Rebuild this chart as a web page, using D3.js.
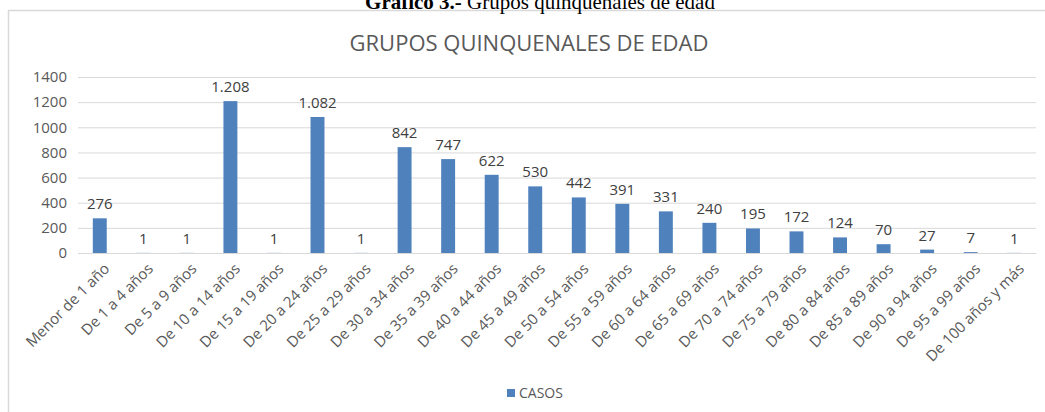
<!DOCTYPE html>
<html>
<head>
<meta charset="utf-8">
<script src="https://cdn.jsdelivr.net/npm/d3@7"></script>
<style>
  body { margin: 0; background: #fff; }
  svg { display: block; }
</style>
</head>
<body>
<div id="container"></div>
<script>
// grupos de edad y casos
var grupos = ["Menor de 1 año", "De 1 a 4 años", "De 5 a 9 años", "De 10 a 14 años", "De 15 a 19 años",
  "De 20 a 24 años", "De 25 a 29 años", "De 30 a 34 años", "De 35 a 39 años", "De 40 a 44 años",
  "De 45 a 49 años", "De 50 a 54 años", "De 55 a 59 años", "De 60 a 64 años", "De 65 a 69 años",
  "De 70 a 74 años", "De 75 a 79 años", "De 80 a 84 años", "De 85 a 89 años", "De 90 a 94 años",
  "De 95 a 99 años", "De 100 años y más"];
var casos = [276, 1, 1, 1208, 1, 1082, 1, 842, 747, 622, 530, 442, 391, 331, 240, 195, 172, 124, 70, 27, 7, 1];
var yTicks = [0, 200, 400, 600, 800, 1000, 1200, 1400];

var width = 1045, height = 412;
var margin = {left: 78, right: 9, top: 77, bottom: 159};
var font = "'Open Sans', sans-serif";

var svg = d3.select("#container").append("svg")
  .attr("width", width)
  .attr("height", height);

// marco del grafico
svg.append("rect")
  .attr("x", 8.5).attr("y", 10.5)
  .attr("width", width + 10).attr("height", height + 10)
  .attr("fill", "none")
  .attr("stroke", "#d9d9d9")
  .attr("stroke-width", 1.5);

// titulo del documento (cortado arriba, como en el original)
var cap = svg.append("text")
  .attr("x", 540).attr("y", 9)
  .attr("text-anchor", "middle")
  .style("font-family", "'Liberation Serif', 'DejaVu Serif', serif")
  .style("font-size", "21px")
  .attr("fill", "#000");
cap.append("tspan").style("font-weight", "bold").text("Gráfico 3.-");
cap.append("tspan").text(" Grupos quinquenales de edad");

// titulo del grafico
svg.append("text")
  .attr("x", 529).attr("y", 51)
  .attr("text-anchor", "middle")
  .style("font-family", font)
  .style("font-size", "22px")
  .attr("fill", "#595959")
  .text("GRUPOS QUINQUENALES DE EDAD");

var x = d3.scaleBand()
  .domain(grupos)
  .range([margin.left, width - margin.right])
  .paddingInner(0.68)
  .paddingOuter(0.34);

var y = d3.scaleLinear()
  .domain([0, 1400])
  .range([height - margin.bottom, margin.top]);

// lineas de cuadricula y etiquetas del eje y
var yAxis = svg.append("g")
  .attr("transform", "translate(" + margin.left + ",0)")
  .call(d3.axisLeft(y).tickValues(yTicks).tickFormat(d3.format("d"))
    .tickSize(-(width - margin.left - margin.right)).tickPadding(11));
yAxis.select(".domain").remove();
yAxis.selectAll(".tick line").attr("stroke", "#d9d9d9");
yAxis.selectAll(".tick text")
  .style("font-family", font)
  .style("font-size", "15px")
  .attr("fill", "#595959");

// barras
svg.selectAll(".bar")
  .data(casos)
  .enter().append("rect")
  .attr("class", "bar")
  .attr("x", function(d, i) { return x(grupos[i]); })
  .attr("y", function(d) { return y(d); })
  .attr("width", x.bandwidth())
  .attr("height", function(d) { return y(0) - y(d); })
  .attr("fill", "#4f81bd");

// etiquetas de valores
var fmt = d3.formatLocale({decimal: ",", thousands: ".", grouping: [3], currency: ["", ""]}).format(",");
svg.selectAll(".val")
  .data(casos)
  .enter().append("text")
  .attr("class", "val")
  .attr("x", function(d, i) { return x(grupos[i]) + x.bandwidth() / 2; })
  .attr("y", function(d) { return y(d) - 9; })
  .attr("text-anchor", "middle")
  .style("font-family", font)
  .style("font-size", "15px")
  .attr("fill", "#404040")
  .text(function(d) { return fmt(d); });

// eje x
var xAxis = svg.append("g")
  .attr("transform", "translate(0," + y(0) + ")")
  .call(d3.axisBottom(x).tickSize(0).tickPadding(0));
xAxis.select(".domain").attr("stroke", "#d9d9d9");
xAxis.selectAll(".tick text")
  .style("font-family", font)
  .style("font-size", "15px")
  .attr("fill", "#595959")
  .attr("text-anchor", "end")
  .attr("dy", "0.35em")
  .attr("transform", "translate(7,13) rotate(-45)");

// leyenda
svg.append("rect")
  .attr("x", 507).attr("y", 389)
  .attr("width", 8).attr("height", 8)
  .attr("fill", "#4f81bd");
svg.append("text")
  .attr("x", 519).attr("y", 398)
  .style("font-family", font)
  .style("font-size", "14px")
  .attr("fill", "#595959")
  .text("CASOS");
</script>
</body>
</html>
